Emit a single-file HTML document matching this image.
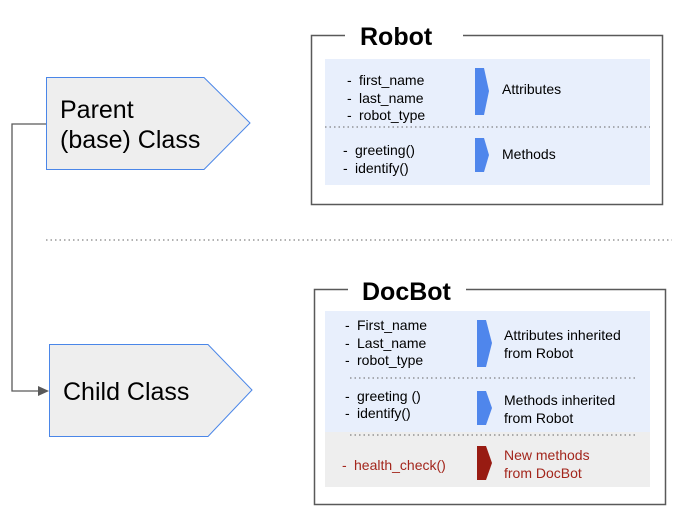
<!DOCTYPE html>
<html><head><style>
body{margin:0;background:#fff;width:684px;height:518px;overflow:hidden}
svg text{font-family:"Liberation Sans",Arial,sans-serif}
</style></head><body>
<svg width="684" height="518" viewBox="0 0 684 518" xmlns="http://www.w3.org/2000/svg">
<!-- connector -->
<polyline points="46,124 12,124 12,391 40,391" fill="none" stroke="#595959" stroke-width="1.3"/>
<polygon points="49,391 38,386 38,396" fill="#595959"/>
<!-- parent -->
<polygon points="46.5,77.5 204,77.5 250,123 204,169.5 46.5,169.5" fill="#eeeeee" stroke="#4a86e8" stroke-width="1"/>
<text x="60" y="118" font-size="25" fill="#000">Parent</text>
<text x="60" y="148" font-size="25" fill="#000">(base) Class</text>
<!-- child -->
<polygon points="49.5,344.5 208,344.5 252,390 208,436.5 49.5,436.5" fill="#eeeeee" stroke="#4a86e8" stroke-width="1"/>
<text x="63" y="400" font-size="25" fill="#000">Child Class</text>
<!-- divider -->
<line x1="46" y1="240" x2="672" y2="240" stroke="#666" stroke-width="1" stroke-dasharray="1.5,3"/>

<!-- Robot -->
<polyline points="345,35.5 311.5,35.5 311.5,204.5 662.5,204.5 662.5,35.5 463,35.5" fill="none" stroke="#595959" stroke-width="1.5"/>
<text x="360" y="45" font-size="25" font-weight="bold">Robot</text>
<rect x="325" y="59" width="325" height="126" fill="#e8effc"/>
<line x1="325" y1="127" x2="650" y2="127" stroke="#666" stroke-dasharray="1.5,3"/>
<polygon points="475,68 484,68 489,91 484,115 475,115" fill="#4f86ec"/>
<polygon points="475,138 484,138 489,155 484,172 475,172" fill="#4f86ec"/>
<g font-size="14">
<text x="347" y="85">-</text><text x="359" y="85">first_name</text>
<text x="347" y="103">-</text><text x="359" y="103">last_name</text>
<text x="347" y="120">-</text><text x="359" y="120">robot_type</text>
<text x="343" y="155">-</text><text x="355" y="155">greeting()</text>
<text x="343" y="173">-</text><text x="355" y="173">identify()</text>
<text x="502" y="94">Attributes</text>
<text x="502" y="159">Methods</text>
</g>

<!-- DocBot -->
<polyline points="348,289.5 314.5,289.5 314.5,504.5 665.5,504.5 665.5,289.5 466,289.5" fill="none" stroke="#595959" stroke-width="1.5"/>
<text x="362" y="300" font-size="25" font-weight="bold">DocBot</text>
<rect x="325" y="311" width="325" height="121" fill="#e8effc"/>
<rect x="325" y="432" width="325" height="55" fill="#eeeeee"/>
<line x1="350" y1="378" x2="637" y2="378" stroke="#666" stroke-dasharray="1.5,3"/>
<line x1="350" y1="435" x2="637" y2="435" stroke="#666" stroke-dasharray="1.5,3"/>
<polygon points="477,320 486,320 492,343 486,367 477,367" fill="#4f86ec"/>
<polygon points="477,391 486,391 492,408 486,425 477,425" fill="#4f86ec"/>
<polygon points="477,446 486,446 492,463 486,480 477,480" fill="#981b12"/>
<g font-size="14">
<text x="345" y="330">-</text><text x="357" y="330">First_name</text>
<text x="345" y="348">-</text><text x="357" y="348">Last_name</text>
<text x="345" y="365">-</text><text x="357" y="365">robot_type</text>
<text x="345" y="401">-</text><text x="357" y="401">greeting ()</text>
<text x="345" y="418">-</text><text x="357" y="418">identify()</text>
<text x="504" y="340">Attributes inherited</text>
<text x="504" y="358">from Robot</text>
<text x="504" y="405">Methods inherited</text>
<text x="504" y="423">from Robot</text>
<text x="342" y="470" fill="#a3261c">-</text><text x="354" y="470" fill="#a3261c">health_check()</text>
<text x="504" y="460" fill="#a3261c">New methods</text>
<text x="504" y="478" fill="#a3261c">from DocBot</text>
</g>
</svg>
</body></html>
